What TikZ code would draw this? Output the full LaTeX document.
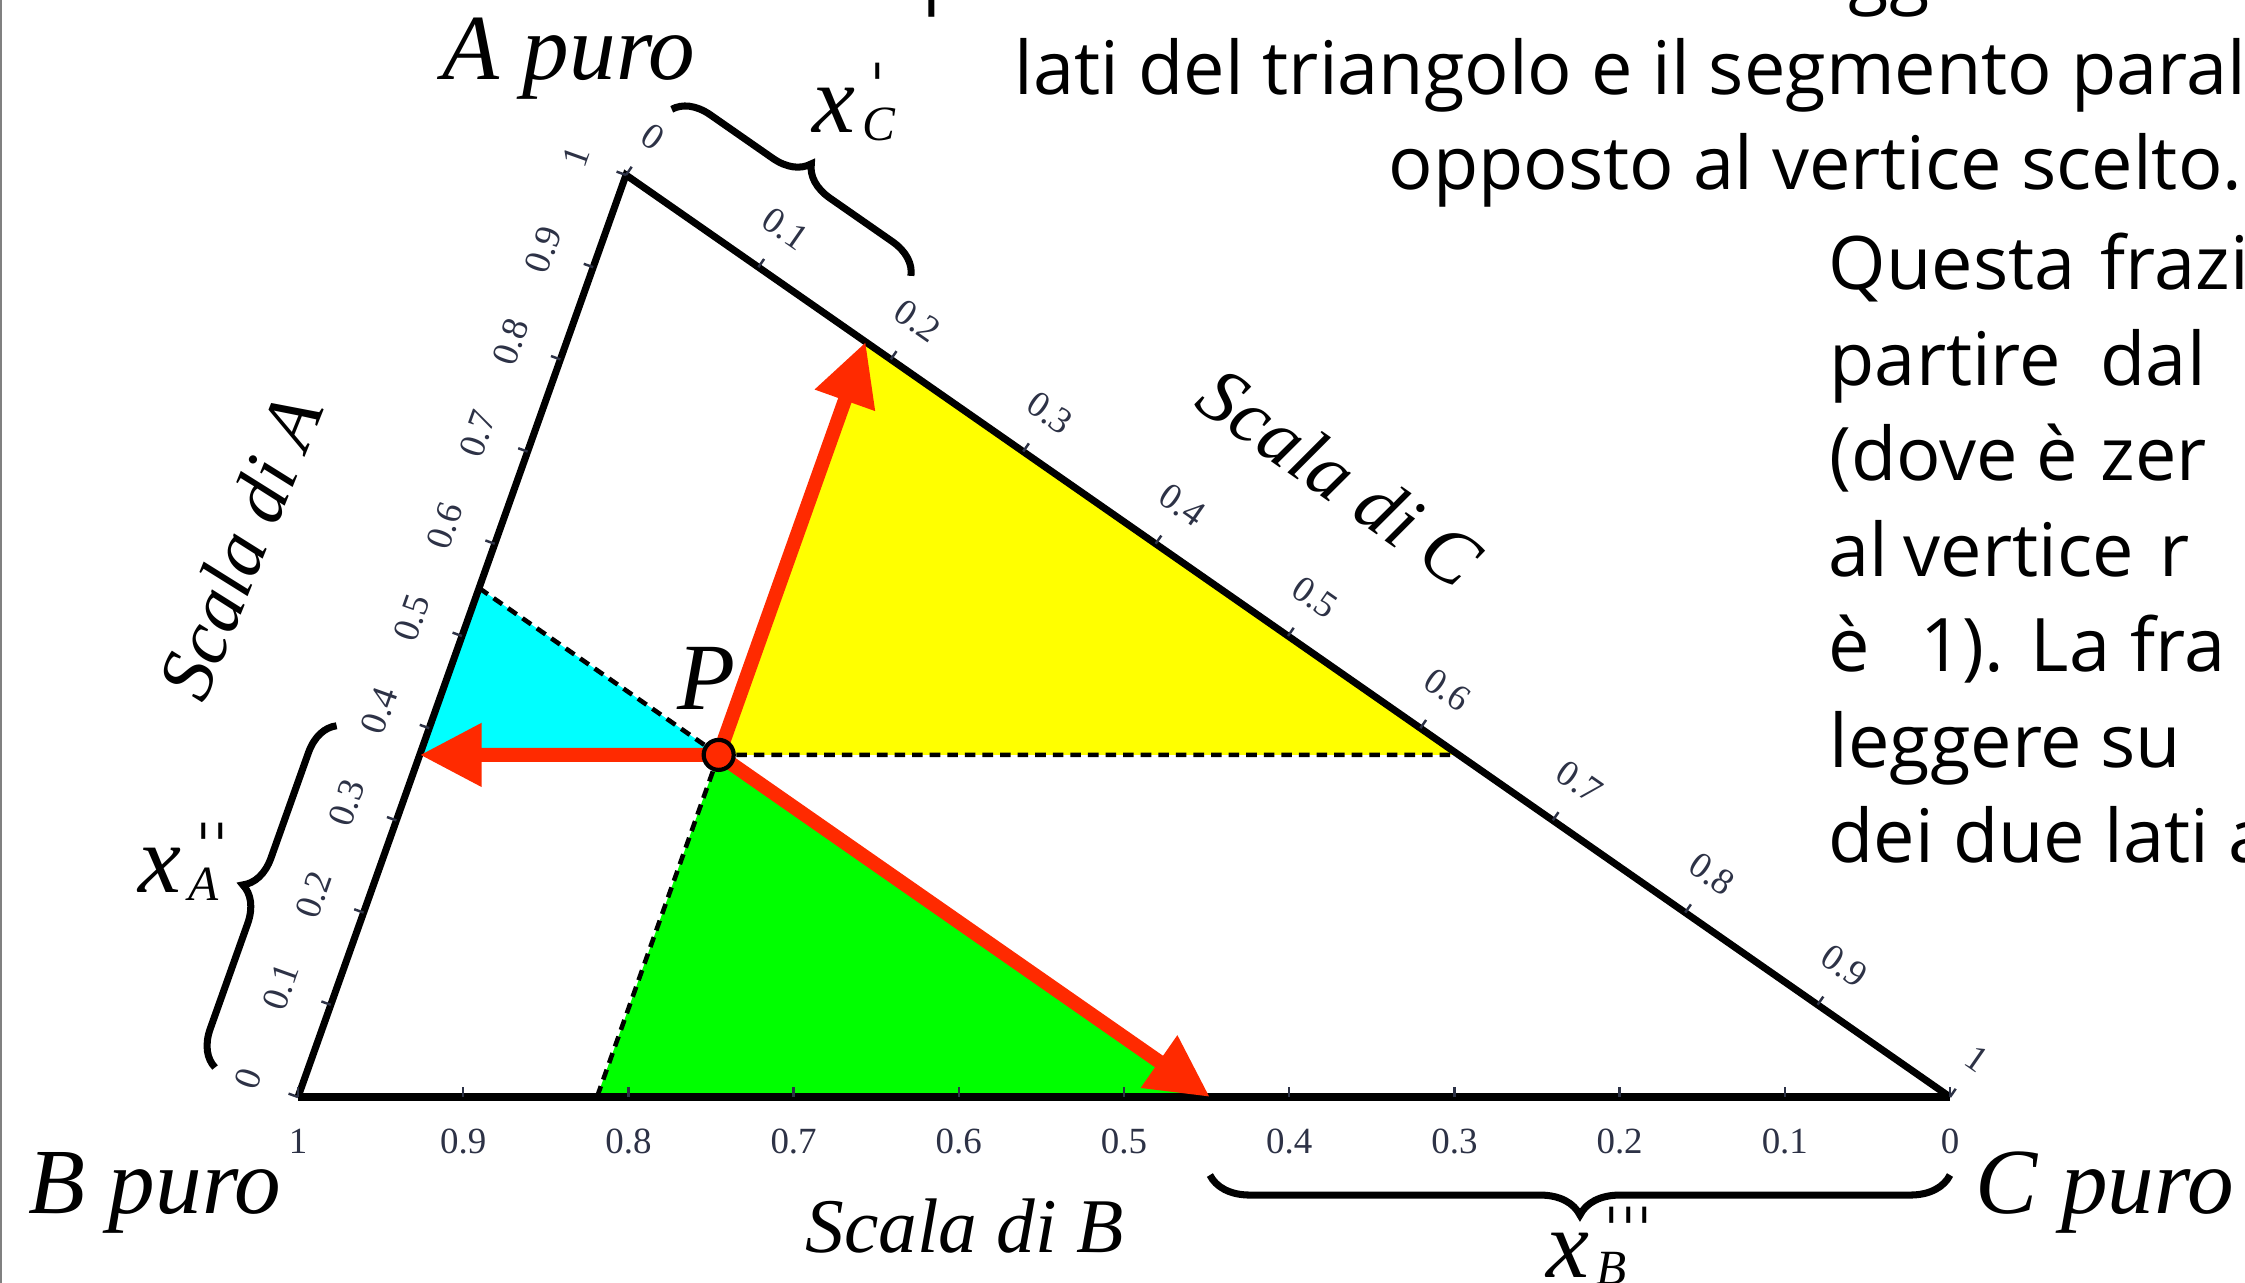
\documentclass[tikz,border=0pt]{standalone}
\usepackage{fontspec}
\setmainfont{Liberation Serif}
\newfontfamily\gill{Open Sans}
\newfontfamily\dvs{DejaVu Sans}
\usetikzlibrary{calc,arrows.meta,decorations.pathreplacing}
\definecolor{cyanA}{RGB}{0,255,255}
\definecolor{yellowA}{RGB}{255,255,0}
\definecolor{greenA}{RGB}{0,255,0}
\definecolor{redA}{RGB}{255,42,0}
\definecolor{tickcol}{RGB}{45,50,70}
\newcommand\fsz[1]{\fontsize{#1}{#1}\selectfont}
\newcommand\xmol[2]{{\fsz{27.5}\itshape x}\hspace{2pt}{\fsz{14}\itshape\rlap{\hspace{2pt}\raisebox{7pt}{\dvs\upshape\fsz{17}#2}}\raisebox{-2.2pt}{#1}}}
\begin{document}
\begin{tikzpicture}[x=0.01cm,y=-0.01cm,
  side/.style={line width=2pt,line join=miter},
  baseside/.style={line width=2.4pt},
  tickmark/.style={line width=0.7pt,draw=tickcol},
  ticklab/.style={font=\fsz{10.5}, text=tickcol, inner sep=0pt},
  dashline/.style={line width=1.3pt, dash pattern=on 3pt off 2pt},
  redarrow/.style={draw=redA, line width=4pt, -{Triangle[length=0.62cm,width=0.6cm]}},
  pdot/.style={circle, fill=redA, draw=black, line width=1.2pt, minimum size=0.3cm, inner sep=0pt},
  bigit/.style={font={\fsz{26.5}\itshape}, inner sep=0pt},
  scalelab/.style={font={\fsz{22}\itshape}, inner sep=0pt},
  bracestyle/.style={decorate, line width=2pt},
  bodytext/.style={font={\gill\fsz{21}}, inner sep=0pt, anchor=base west},
]
\useasboundingbox (0,0) rectangle (2245,1283);
\begin{scope}
\clip (0,0) rectangle (2245,1283);
\fill[white] (0,0) rectangle (2245,1283);
\draw[gray, line width=0.45pt] (1,0) -- (1,1283);

% vertices and construction points
\coordinate (A) at (626,175);
\coordinate (B) at (298,1097);
\coordinate (C) at (1950,1097);
\coordinate (P) at (718.7,754.9);
\coordinate (PA) at ($(B)!0.371!(A)$);
\coordinate (PC) at ($(A)!0.181!(C)$);
\coordinate (PB) at ($(C)!0.448!(B)$);
\coordinate (Q1) at ($(B)!0.552!(A)$);
\coordinate (Q2) at ($(A)!0.629!(C)$);
\coordinate (Q3) at ($(C)!0.819!(B)$);

% coloured regions
\fill[cyanA] (P) -- (PA) -- (Q1) -- cycle;
\fill[yellowA] (P) -- (PC) -- (Q2) -- cycle;
\fill[greenA] (P) -- (Q3) -- (PB) -- cycle;

% dashed construction lines
\draw[dashline] (P) -- (Q1);
\draw[dashline] (P) -- (Q2);
\draw[dashline] (P) -- (Q3);

% triangle
\draw[side] (C) -- (A) -- (B);
\draw[baseside] (B) -- (C);

% scales
\foreach \i in {0,...,10}{
  \pgfmathsetmacro\tv{\i/10}
  \ifnum\i=0 \def\tlabtxt{0}\else\ifnum\i=10 \def\tlabtxt{1}\else\edef\tlabtxt{0.\i}\fi\fi
  % scale of A on AB
  \draw[tickmark] ($(B)!\tv!(A)$) -- ($(B)!\tv!(A)+(160.42:0.1cm)$);
  \node[ticklab, rotate=70.42] (la\i) at ($(B)!\tv!(A)+(160.42:0.53cm)$) {\tlabtxt};
  % scale of C on AC
  \draw[tickmark] ($(A)!\tv!(C)$) -- ($(A)!\tv!(C)+(55.15:0.1cm)$);
  \node[ticklab, rotate=-34.85] (lc\i) at ($(A)!\tv!(C)+(55.15:0.47cm)$) {\tlabtxt};
  % scale of B on CB
  \draw[tickmark] ($(C)!\tv!(B)$) -- ($(C)!\tv!(B)+(0,0.1cm)$);
  \node[ticklab] (lb\i) at ($(C)!\tv!(B)+(0,-0.44cm)$) {\tlabtxt};
}

% red arrows and point P
\draw[redarrow] (P) -- (PA);
\draw[redarrow] (P) -- (PC);
\draw[redarrow] (P) -- (PB);
\node[pdot] (Pdot) at (P) {};
\node[bigit, font={\fsz{27}\itshape}, anchor=base] (Plab) at (706,710) {P};

% vertex and scale labels
\node[bigit, anchor=base west] (Apuro) at (442,80) {A puro};
\node[bigit, anchor=base west] (Bpuro) at (28,1213) {B puro};
\node[bigit, anchor=base west] (Cpuro) at (1975,1213) {C puro};
\node[scalelab, anchor=base west] (scB) at (805,1252) {Scala di B};
\node[scalelab, rotate=68] (scA) at (240,547) {Scala di A};
\node[scalelab, rotate=-35] (scC) at (1340,477) {Scala di C};

% braces
\draw[bracestyle, decoration={brace, amplitude=0.35cm}]
  ($(A)+(55.15:0.8cm)$) -- ($(A)!0.181!(C)+(55.15:0.8cm)$);
\draw[bracestyle, decoration={brace, amplitude=0.35cm}]
  ($(B)+(160.42:0.88cm)$) -- ($(B)!0.371!(A)+(160.42:0.88cm)$);
\draw[bracestyle, decoration={brace, amplitude=0.4cm}]
  ($(C)+(0,-0.78cm)$) -- ($(C)!0.448!(B)+(0,-0.78cm)$);
\node[inner sep=0pt, anchor=base west] (xC) at (812,133) {\xmol{C}{ˈ}};
\node[inner sep=0pt, anchor=base west] (xA) at (138,893) {\xmol{A}{ˈˈ}};
\node[inner sep=0pt, anchor=base west] (xB) at (1546,1277) {\xmol{B}{ˈˈˈ}};

% text on the right
\node[bodytext] (t0a) at (922,0) {p};
\node[bodytext] (t0b) at (1848,0) {gg};
\node[bodytext] (t1) at (1014,95) {lati del triangolo e il segmento paral};
\node[bodytext, anchor=base east] (t2) at (2243,190) {opposto al vertice scelto.};
\node[bodytext] (w11) at (1828,290) {Questa};
\node[bodytext] (w12) at (2100,290) {frazi};
\node[bodytext] (w21) at (1829,385.5) {partire};
\node[bodytext] (w22) at (2100,385.5) {dal};
\node[bodytext] (w31) at (1829,481) {(dove};
\node[bodytext] (w32) at (2036,481) {è};
\node[bodytext] (w33) at (2100,481) {zer};
\node[bodytext] (w41) at (1828,576.5) {al};
\node[bodytext] (w42) at (1903,576.5) {vertice};
\node[bodytext] (w43) at (2159,576.5) {r};
\node[bodytext] (w51) at (1828,672) {è};
\node[bodytext] (w52) at (1920,672) {1).};
\node[bodytext] (w53) at (2030,672) {La};
\node[bodytext] (w54) at (2130,672) {fra};
\node[bodytext] (w61) at (1829,767.5) {leggere};
\node[bodytext] (w62) at (2100,767.5) {su};
\node[bodytext] (w71) at (1828,863) {dei due lati a};
\end{scope}
\end{tikzpicture}
\end{document}
